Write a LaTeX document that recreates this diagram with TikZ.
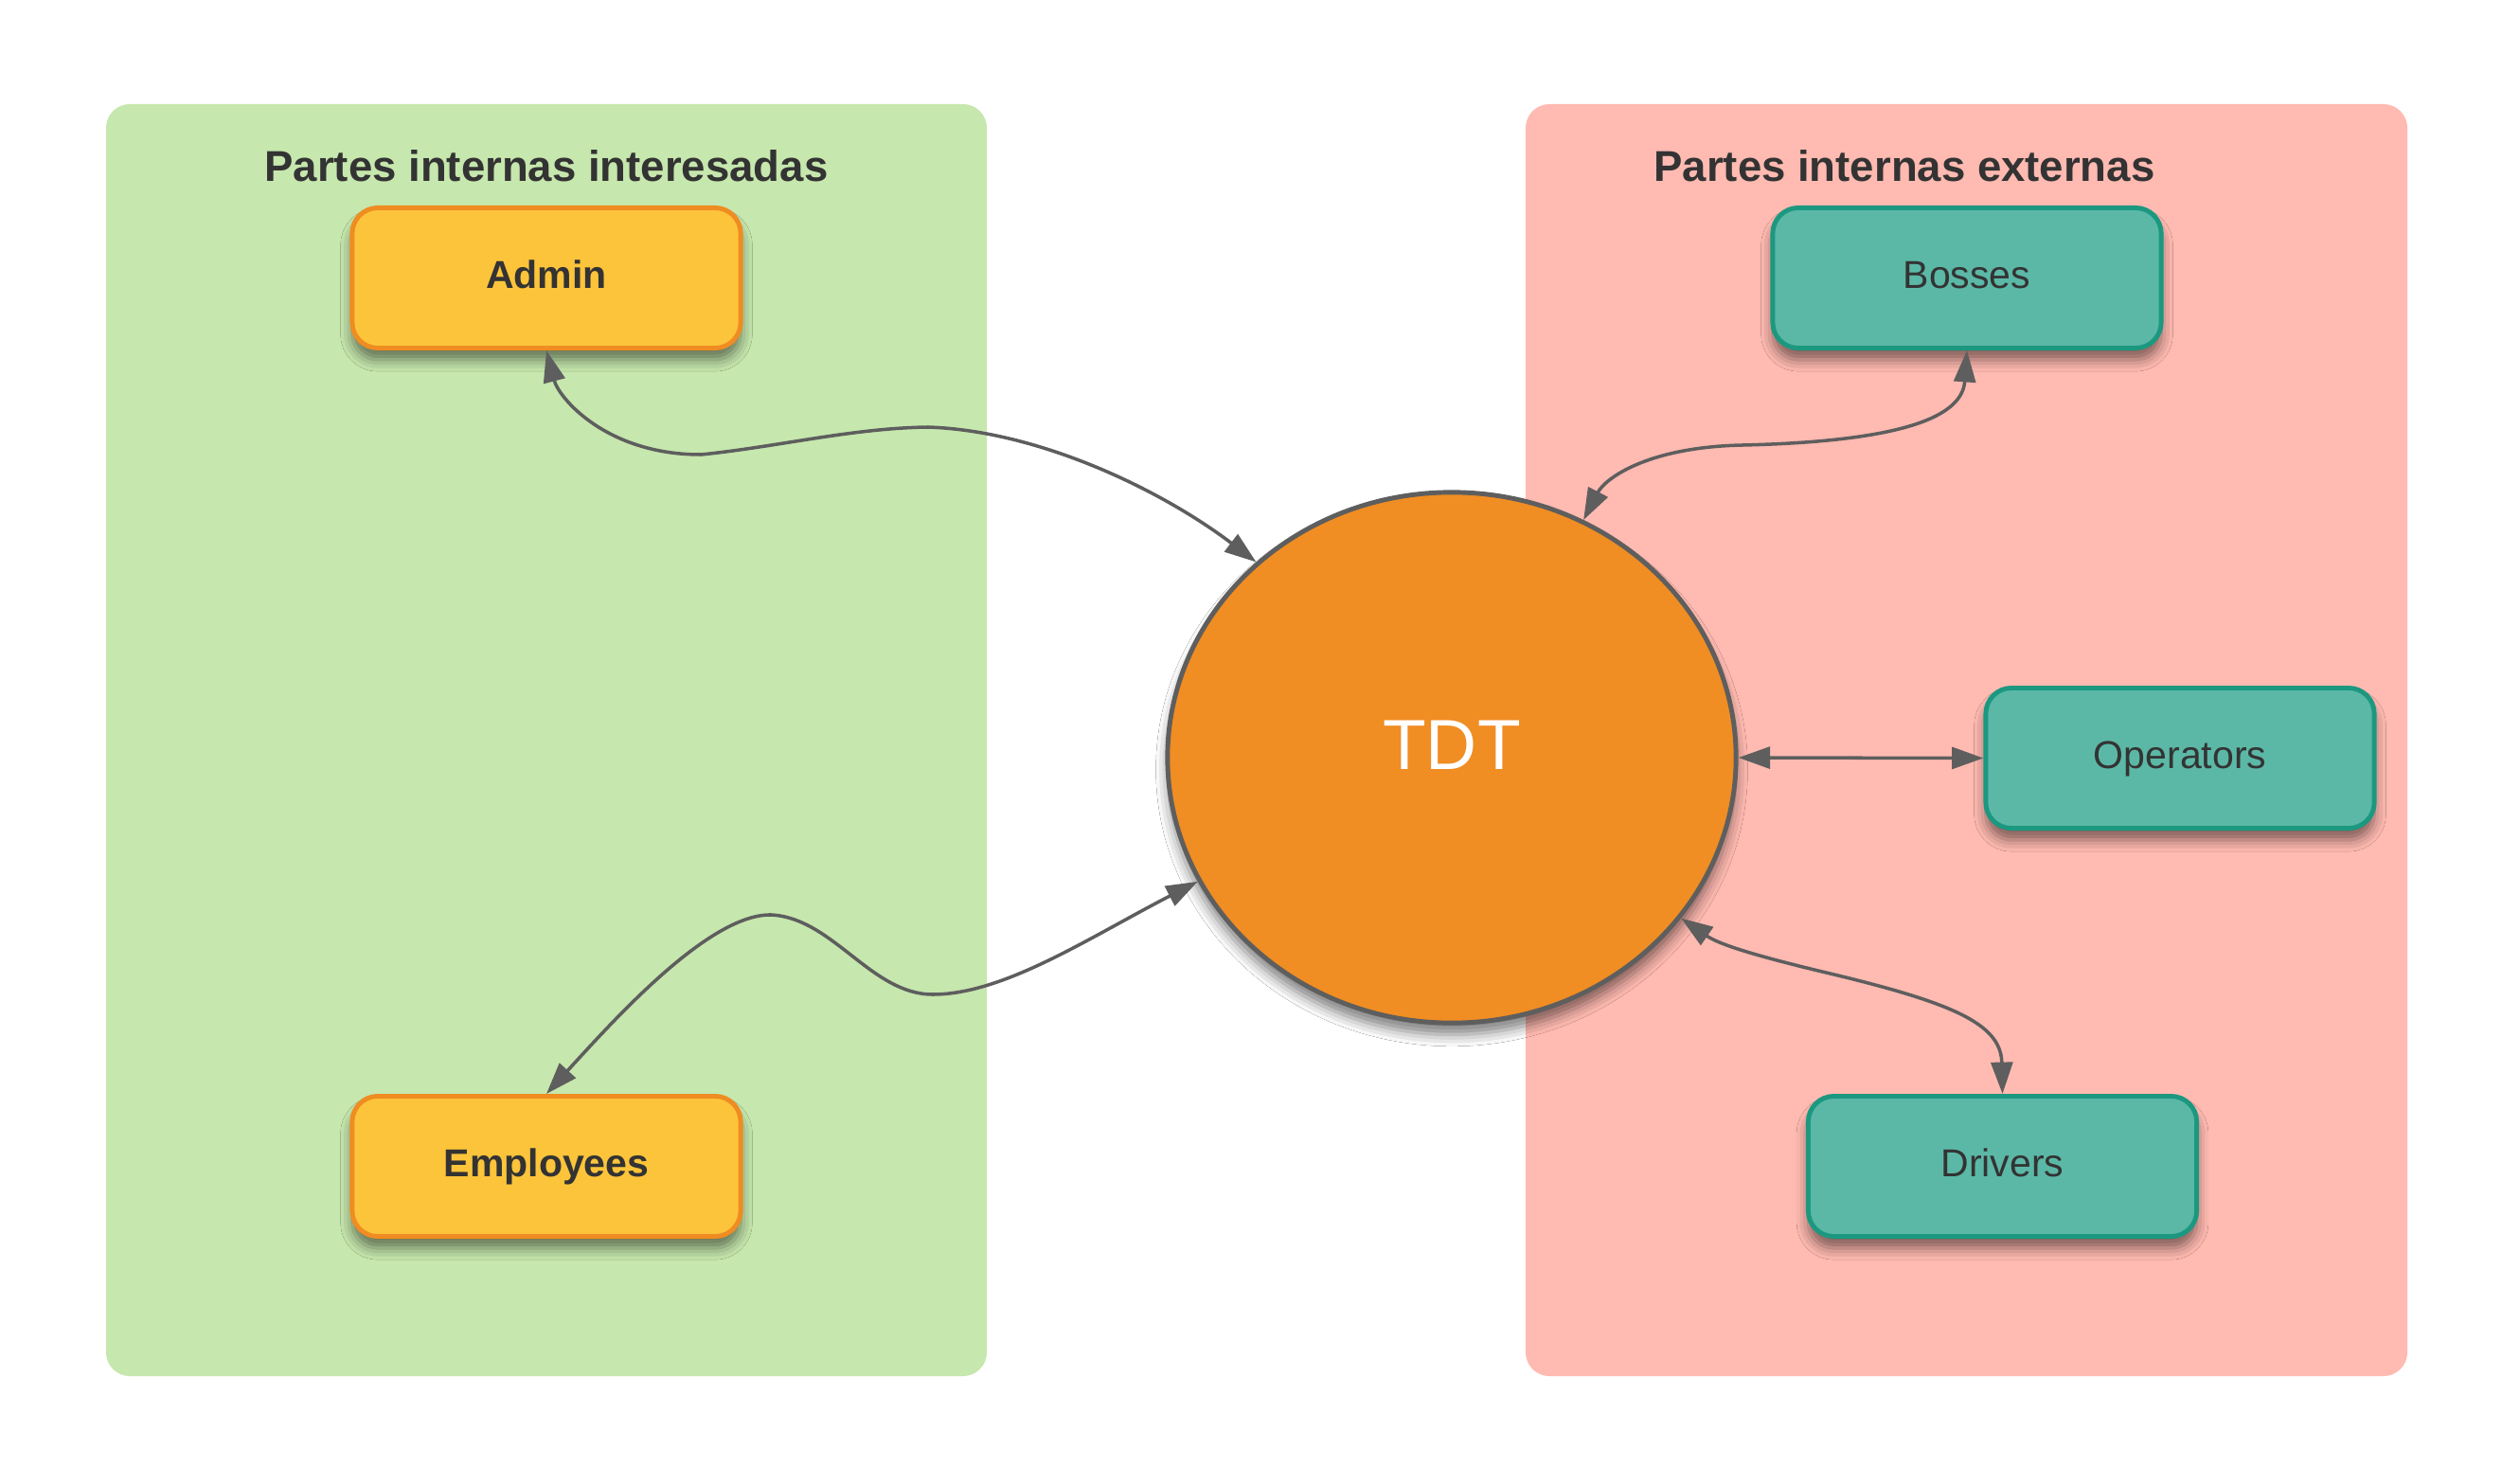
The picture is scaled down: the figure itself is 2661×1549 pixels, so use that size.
\documentclass[tikz,border=0pt]{standalone}
\usepackage{fontspec}
\setmainfont{Liberation Sans}
\usetikzlibrary{shapes.geometric,arrows.meta,shadows.blur}
\definecolor{panelgreen}{HTML}{C6E7AD}
\definecolor{panelpink}{HTML}{FFBAB1}
\definecolor{yfill}{HTML}{FCC43A}
\definecolor{yborder}{HTML}{EF8C22}
\definecolor{tfill}{HTML}{5BB8A6}
\definecolor{tborder}{HTML}{1C9880}
\definecolor{cfill}{HTML}{F08D23}
\definecolor{cborder}{HTML}{5E5E5E}
\definecolor{txt}{HTML}{333333}
\definecolor{arrowgray}{HTML}{5E5E5E}
\begin{document}
\begin{tikzpicture}[x=0.01cm,y=-0.01cm,
  softshadow/.style={blur shadow={shadow xshift=0pt,shadow yshift=-3.5pt,shadow blur radius=3.5pt,shadow opacity=50}},
  basebox/.style={rounded corners=0.27cm, minimum width=4.1cm, minimum height=1.48cm,
    inner sep=0pt, line width=1.4pt, text=txt, text height=8.4pt, text depth=2.2pt, softshadow},
  yellowbox/.style={basebox, draw=yborder, fill=yfill, font=\bfseries\fontsize{11.67pt}{14pt}\selectfont},
  tealbox/.style={basebox, draw=tborder, fill=tfill, font=\fontsize{11.67pt}{14pt}\selectfont},
  titletext/.style={text=txt, font=\bfseries\fontsize{12.95pt}{15pt}\selectfont, inner sep=0pt},
  connector/.style={draw=arrowgray, line width=1pt,
    arrows={Triangle[length=9.5pt,width=6.5pt]-Triangle[length=9.5pt,width=6.5pt]}}
]
\useasboundingbox (0,0) rectangle (2661,1549);
\fill[white] (0,0) rectangle (2661,1549);

% panels
\fill[panelgreen, rounded corners=0.25cm] (112,110) rectangle (1042,1453);
\fill[panelpink, rounded corners=0.25cm] (1611,110) rectangle (2542,1453);

% titles
\node[titletext] (lefttitle) at (577,175) {Partes internas interesadas};
\node[titletext] (righttitle) at (2011,175) {Partes internas externas};

% central ellipse
\node[ellipse, draw=cborder, fill=cfill, line width=1.4pt, minimum width=6.0cm, minimum height=5.6cm, inner sep=0pt, softshadow] (tdt) at (1533,800) {};
\node[text=white, font=\fontsize{21.3pt}{25pt}\selectfont, inner sep=0pt] (tdtlabel) at (1533,787) {TDT};

% boxes
\node[yellowbox] (admin) at (577,293.5) {Admin};
\node[yellowbox] (employees) at (577,1231.5) {Employees};
\node[tealbox] (bosses) at (2077,293.5) {Bosses};
\node[tealbox] (operators) at (2302,800.5) {Operators};
\node[tealbox] (drivers) at (2114.5,1231.5) {Drivers};

% connectors
\draw[connector] (admin.south) .. controls (590,420) and (640,480) .. (740,480)
  .. controls (820,472) and (900,452) .. (980,451)
  .. controls (1100,455) and (1230,520) .. (tdt.135);
\draw[connector] (bosses.south) .. controls (2072,440) and (2010,466) .. (1840,470)
  .. controls (1740,472) and (1695,505) .. (tdt.61);
\draw[connector] (tdt.east) -- (operators.west);
\draw[connector] (tdt.-35) .. controls (1815,997) and (1850,1008) .. (1920,1025)
  .. controls (2060,1058) and (2113,1080) .. (drivers.north);
\draw[connector] (tdt.206) .. controls (1150,990) and (1060,1050) .. (985,1050)
  .. controls (920,1050) and (880,970) .. (815,966)
  .. controls (750,964) and (650,1075) .. (employees.north);
\end{tikzpicture}
\end{document}
